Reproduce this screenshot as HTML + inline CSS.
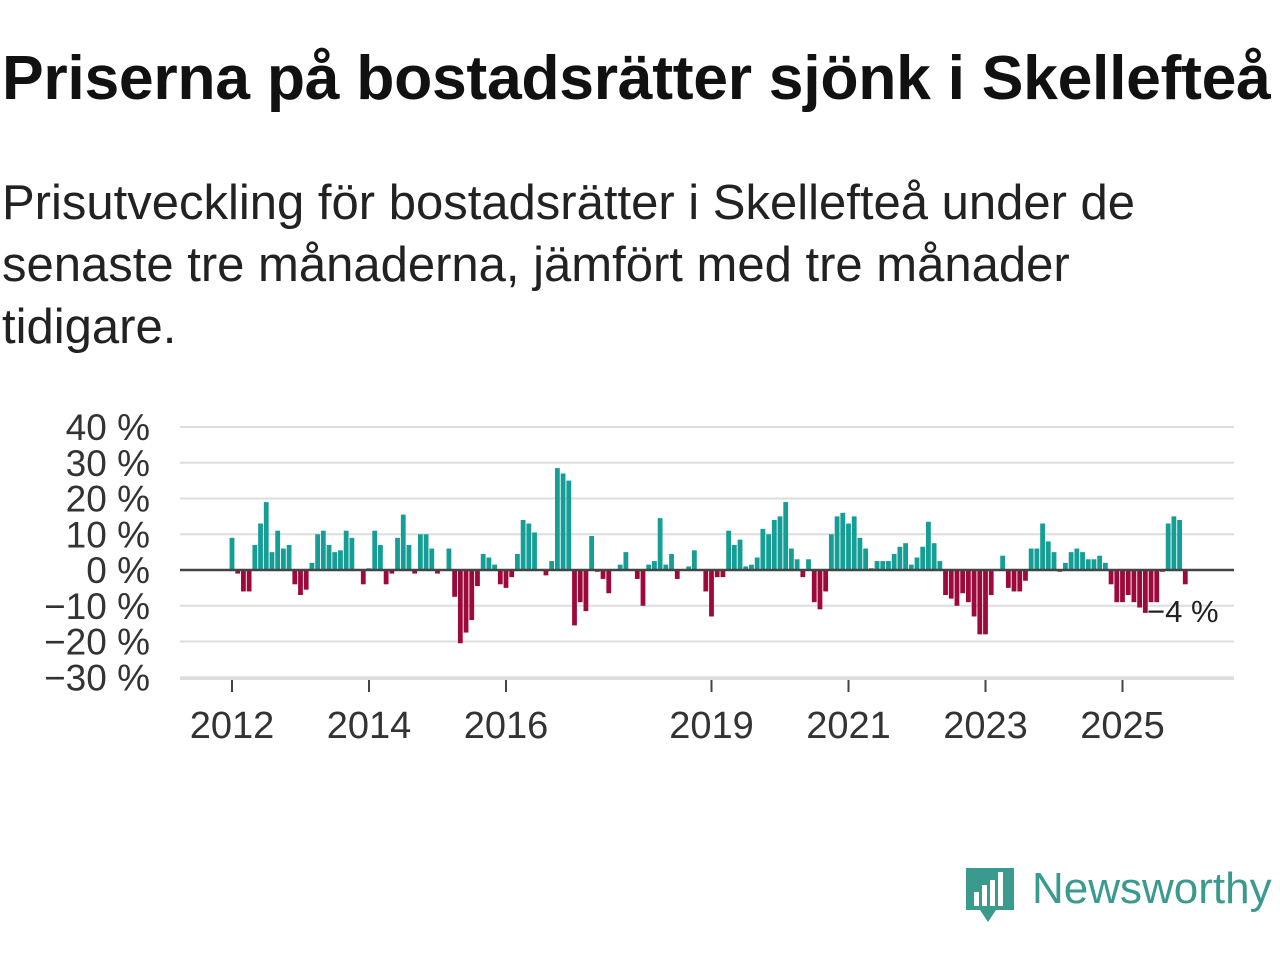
<!DOCTYPE html>
<html><head><meta charset="utf-8"><style>
body{margin:0;background:#fff;font-family:"Liberation Sans",sans-serif;}
#wrap{position:relative;width:1280px;height:960px;overflow:hidden}
h1{position:absolute;left:2px;top:42px;margin:0;font-size:62.5px;font-weight:bold;color:#111;letter-spacing:-0.3px;white-space:nowrap}
p{position:absolute;left:2px;top:172px;margin:0;font-size:49px;line-height:62px;color:#222;width:1200px}
</style></head><body><div id="wrap">
<h1>Priserna på bostadsrätter sjönk i Skellefteå</h1>
<p>Prisutveckling för bostadsrätter i Skellefteå under de senaste tre månaderna, jämfört med tre månader tidigare.</p>
<svg id="chart" width="1280" height="960" style="position:absolute;left:0;top:0"></svg>
</div>
<script>
const startYear = 2012;
const values = [9,-1,-6,-6,7,13,19,5,11,6,7,-4,
-7,-5.5,2,10,11,7,5,5.5,11,9,0.3,-4,
0.5,11,7,-4,-1,9,15.5,7,-1,10,10,6,
-1,0,6,-7.5,-20.5,-17.5,-14,-4.5,4.5,3.5,1.5,-4,
-5,-2,4.5,14,13,10.5,0,-1.5,2.5,28.5,27,25,
-15.5,-9,-11.5,9.5,-0.5,-2.5,-6.5,0,1.5,5,0,-2.5,
-10,1.5,2.5,14.5,1.5,4.5,-2.5,0,1,5.5,0,-6,
-13,-2,-2,11,7,8.5,1,1.5,3.5,11.5,10,14,
15,19,6,3,-2,3,-9,-11,-6,10,15,16,
13,15,9,6,0.5,2.5,2.5,2.5,4.5,6.5,7.5,1.5,
3.5,6.5,13.5,7.5,2.5,-7,-8,-10,-6.5,-9,-13,-18,
-18,-7,0,4,-5,-6,-6,-3,6,6,13,8,
5,-0.5,2,5,6,5,3,3,4,2,-4,-9,
-9,-7,-9,-10.5,-12,-9,-9,-0.5,13,15,14,-4];
const yTicks = [40,30,20,10,0,-10,-20,-30];
const xTickYears = [2012,2014,2016,2019,2021,2023,2025];
const lastLabel = "−4 %";

const svg=document.getElementById('chart');
const NS='http://www.w3.org/2000/svg';
const y0=570, pxPer=3.575, x2012=232, monthW=68.5/12;
const yS=v=>y0-v*pxPer;
const xS=i=>x2012+i*monthW;
function mk(t,a){const e=document.createElementNS(NS,t);for(const k in a)e.setAttribute(k,a[k]);svg.appendChild(e);return e;}
yTicks.forEach(t=>{
  if(t!==0){const g=mk('line',{x1:180,x2:1234,y1:yS(t),y2:yS(t),stroke:'#ddd','stroke-width':2});
  
  }
  const l=mk('text',{x:150,y:yS(t)+13,'text-anchor':'end','font-size':37,fill:'#333','font-family':'Liberation Sans, sans-serif'});
  l.textContent=(t<0?'−'+(-t):t)+' %';
  
  
});
values.forEach((v,i)=>{
  const x=xS(i)-2.4;
  const r=mk('rect',{x:x,width:4.8,y:v>=0?yS(v):y0,height:Math.abs(v)*pxPer,fill:v>=0?'#159e95':'#9c0a3c'});
  
  
});
const z=mk('line',{x1:180,x2:1234,y1:y0,y2:y0,stroke:'#444','stroke-width':2.5});


xTickYears.forEach(yr=>{
  const x=xS((yr-startYear)*12);
  const t=mk('line',{x1:x,x2:x,y1:680,y2:692,stroke:'#444','stroke-width':2});
  
  
  const l=mk('text',{x:x,y:738,'text-anchor':'middle','font-size':38,fill:'#333','font-family':'Liberation Sans, sans-serif'});
  l.textContent=yr;
  
  
});
const ax=mk('line',{x1:180,x2:1234,y1:679,y2:679,stroke:'#ddd','stroke-width':2});


const an=mk('text',{x:1147,y:622,'font-size':31,fill:'#222','font-family':'Liberation Sans, sans-serif'});
an.textContent=lastLabel;


const lg=mk('g',{});


const ic=document.createElementNS(NS,'path');
ic.setAttribute('d','M966 868 h48 v42 h-18 l-8 12 l-8 -12 h-14 z');
ic.setAttribute('fill','#3a9a8e');lg.appendChild(ic);
[[974,892,5],[982,885,5],[990,880,5],[998,872,5]].forEach(b=>{const r=document.createElementNS(NS,'rect');r.setAttribute('x',b[0]);r.setAttribute('y',b[1]);r.setAttribute('width',b[2]);r.setAttribute('height',906-b[1]);r.setAttribute('fill','#fff');lg.appendChild(r);});
const lt=document.createElementNS(NS,'text');
lt.setAttribute('x',1032);lt.setAttribute('y',903);lt.setAttribute('font-size',44);lt.setAttribute('fill','#3a9a8e');lt.setAttribute('font-family','Liberation Sans, sans-serif');
lt.textContent='Newsworthy';lg.appendChild(lt);
</script></body></html>
